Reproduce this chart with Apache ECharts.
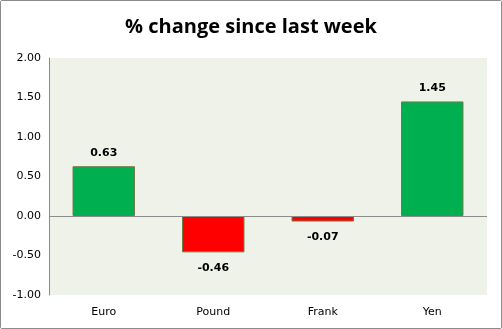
<!DOCTYPE html>
<html><head><meta charset="utf-8">
<script src="https://cdn.jsdelivr.net/npm/echarts@6/dist/echarts.min.js"></script>
<style>html,body{margin:0;padding:0;background:#fff}#c{width:502px;height:329px;box-sizing:border-box;border:1px solid #8c8c8c;border-radius:2px}</style>
</head><body><div id="c"></div>
<script>
const categories = ["Euro", "Pound", "Frank", "Yen"];
const values = [0.63, -0.46, -0.07, 1.45];
const titleText = "% change since last week";
const chart = echarts.init(document.getElementById('c'), null, {renderer: 'canvas'});
chart.setOption({
  animation: false,
  backgroundColor: '#ffffff',
  title: {text: titleText, left: 'center', top: 11,
    textStyle: {fontFamily: 'Open Sans', fontWeight: 'bold', fontSize: 20, color: '#000'}},
  grid: {left: 48, right: 14, top: 57, bottom: 33, backgroundColor: '#EEF2E8', show: true, borderWidth: 0},
  xAxis: {type: 'category', data: categories, position: 'bottom',
    axisLine: {show: false}, axisTick: {show: false},
    axisLabel: {fontFamily: 'DejaVu Sans', fontSize: 11, color: '#000', margin: 12}},
  yAxis: {type: 'value', min: -1, max: 2, interval: 0.5,
    axisLine: {show: true, lineStyle: {color: '#8c8c8c'}}, axisTick: {show: false},
    splitLine: {show: false},
    axisLabel: {fontFamily: 'DejaVu Sans', fontSize: 11, color: '#000', margin: 8,
      formatter: v => v.toFixed(2)}},
  series: [{type: 'bar', barWidth: '57%',
    data: values.map(v => ({value: v,
      itemStyle: {color: v >= 0 ? '#00B050' : '#FF0000'},
      label: {position: v >= 0 ? 'top' : 'bottom', distance: v >= 0 ? 8 : 10}})),
    itemStyle: {borderColor: '#6f7a45', borderWidth: 1},
    label: {show: true, fontFamily: 'DejaVu Sans', fontWeight: 'bold', fontSize: 11, color: '#000',
      formatter: p => p.value.toFixed(2)},
    markLine: {silent: true, symbol: 'none', label: {show: false},
      lineStyle: {color: '#8c8c8c', type: 'solid', width: 1}, data: [{yAxis: 0}]}
  }]
});
</script></body></html>
